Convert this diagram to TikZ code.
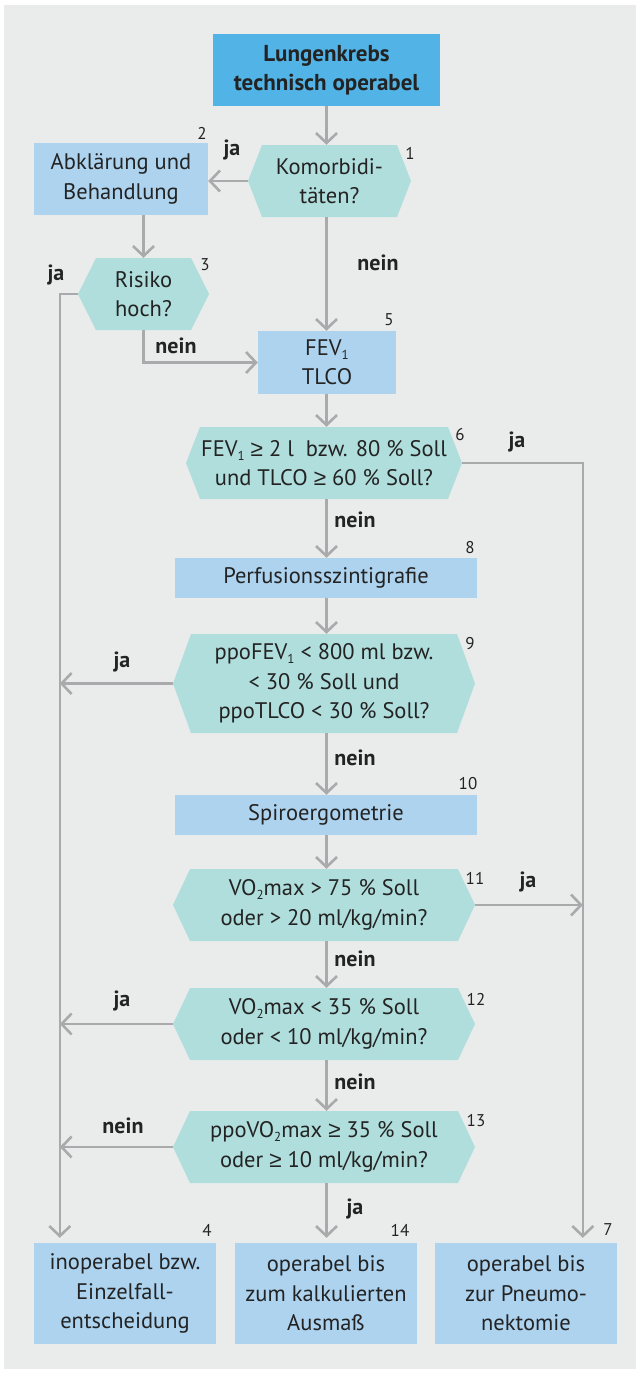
\documentclass[tikz,border=0pt]{standalone}
\usepackage{fontspec}
\setmainfont{PT Sans}
\newfontfamily\relfont{Liberation Sans}
\newcommand{\gesign}{{\relfont ≥}}
\newcommand{\lowidx}[1]{\raisebox{-0.35ex}{\fontsize{13}{13}\selectfont #1}}
\usetikzlibrary{arrows.meta,calc}

\definecolor{paper}{RGB}{255,255,255}
\definecolor{panel}{RGB}{234,236,235}
\definecolor{startblue}{RGB}{82,180,230}
\definecolor{stepblue}{RGB}{173,211,239}
\definecolor{hexfill}{RGB}{176,222,220}
\definecolor{linegray}{RGB}{170,170,172}
\definecolor{ink}{RGB}{35,35,35}

\tikzset{
  every node/.style={text=ink, inner sep=0pt, align=center,
    font=\fontsize{22.5}{29.5}\selectfont},
  startbox/.style={fill=startblue, font=\fontsize{23}{29}\selectfont\bfseries},
  stepbox/.style={fill=stepblue},
  hexq/.style={fill=panel,
    path picture={\fill[hexfill]
      (path picture bounding box.west)
      -- ($(path picture bounding box.north west)+(#1,0)$)
      -- ($(path picture bounding box.north east)+(-#1,0)$)
      -- (path picture bounding box.east)
      -- ($(path picture bounding box.south east)+(-#1,0)$)
      -- ($(path picture bounding box.south west)+(#1,0)$)
      -- cycle;}},
  hexq/.default=17,
  lab/.style={font=\fontsize{22}{24}\selectfont\bfseries},
  num/.style={font=\fontsize{17}{18}\selectfont},
  conn/.style={draw=linegray, line width=2.6pt,
    -{Straight Barb[length=10pt,width=21pt,line width=2.6pt]}},
}

\begin{document}
\begin{tikzpicture}[x=1pt,y=-1pt]
  % page and panel
  \fill[paper] (0,0) rectangle (640,1373);
  \fill[panel] (4,5) rectangle (636,1369);
  \useasboundingbox (0,0) rectangle (640,1373);

  % boxes and decisions
  \node[startbox, minimum width=227, minimum height=72] (start) at (326.5,70)
    {Lungenkrebs\\technisch operabel};
  \node[hexq=14, minimum width=163, minimum height=72] (hex1) at (329.5,181)
    {Komorbidi-\\täten?};
  \node[stepbox, minimum width=174, minimum height=72] (box2) at (121,179)
    {Abklärung und\\Behandlung};
  \node[hexq=18, minimum width=131, minimum height=72] (hex3) at (143.5,294)
    {Risiko\\hoch?};
  \node[stepbox, minimum width=138, minimum height=63] (box5) at (327,362.5)
    {FEV\lowidx{1}\\TLCO};
  \node[hexq=14, minimum width=276, minimum height=72] (hex6) at (324,463)
    {FEV\lowidx{1} \gesign{} 2 l\ \ bzw. 80~\% Soll\\und TLCO \gesign{} 60~\% Soll?};
  \node[stepbox, minimum width=302, minimum height=40] (box8) at (326,578)
    {Perfusionsszintigrafie};
  \node[hexq=18, minimum width=302, minimum height=99] (hex9) at (324,683.5)
    {ppoFEV\lowidx{1} < 800 ml bzw.\\< 30~\% Soll und\\ppoTLCO < 30~\% Soll?};
  \node[stepbox, minimum width=302, minimum height=40] (box10) at (326,815)
    {Spiroergometrie};
  \node[hexq, minimum width=302, minimum height=72] (hex11) at (324,905)
    {VO\lowidx{2}max > 75~\% Soll\\oder > 20 ml/kg/min?};
  \node[hexq, minimum width=302, minimum height=72] (hex12) at (324,1024)
    {VO\lowidx{2}max < 35~\% Soll\\oder < 10 ml/kg/min?};
  \node[hexq, minimum width=302, minimum height=72] (hex13) at (324,1147)
    {ppoVO\lowidx{2}max \gesign{} 35~\% Soll\\oder \gesign{} 10 ml/kg/min?};
  \node[stepbox, minimum width=182, minimum height=101] (box4) at (125,1293.5)
    {inoperabel bzw.\\Einzelfall-\\entscheidung};
  \node[stepbox, minimum width=182, minimum height=101] (box14) at (326,1293.5)
    {operabel bis\\zum kalkulierten\\Ausmaß};
  \node[stepbox, minimum width=182, minimum height=101] (box7) at (526,1293.5)
    {operabel bis\\zur Pneumo-\\nektomie};

  % feet of the two long side lines
  \coordinate (Lfoot) at ($(box4.north west)+(26,0)$);
  \coordinate (Rfoot) at ($(box7.north west)+(148,0)$);

  % connectors
  \draw[conn] (start.south) -- (start.south |- hex1.north);
  \draw[conn] (hex1.west) -- (hex1.west -| box2.east);
  \draw[conn] (hex3.north |- box2.south) -- (hex3.north);
  \draw[conn, shorten >=5pt] (hex3.west) -| (Lfoot);
  \draw[conn] (hex3.south) |- (box5.west);
  \draw[conn] (start.south |- hex1.south) -- (start.south |- box5.north);
  \draw[conn] (start.south |- box5.south) -- (start.south |- hex6.north);
  \draw[conn, shorten >=5pt] (hex6.east) -| (Rfoot);
  \draw[conn] (start.south |- hex6.south) -- (start.south |- box8.north);
  \draw[conn] (start.south |- box8.south) -- (start.south |- hex9.north);
  \draw[conn] (hex9.west) -- (hex9.west -| Lfoot);
  \draw[conn] (start.south |- hex9.south) -- (start.south |- box10.north);
  \draw[conn] (start.south |- box10.south) -- (start.south |- hex11.north);
  \draw[conn] (hex11.east) -- (hex11.east -| Rfoot);
  \draw[conn] (start.south |- hex11.south) -- (start.south |- hex12.north);
  \draw[conn] (hex12.west) -- (hex12.west -| Lfoot);
  \draw[conn] (start.south |- hex12.south) -- (start.south |- hex13.north);
  \draw[conn] (hex13.west) -- (hex13.west -| Lfoot);
  \draw[conn, shorten >=5pt] (start.south |- hex13.south) -- (start.south |- box14.north);

  % branch labels
  \node[lab] (l1) at (232,150) {ja};
  \node[lab] (l2) at (56,275) {ja};
  \node[lab] (l3) at (176,346) {nein};
  \node[lab] (l4) at (378,263) {nein};
  \node[lab] (l5) at (517,442) {ja};
  \node[lab] (l6) at (355,520) {nein};
  \node[lab] (l7) at (122,662) {ja};
  \node[lab] (l8) at (355,758) {nein};
  \node[lab] (l9) at (528,882) {ja};
  \node[lab] (l10) at (355,959) {nein};
  \node[lab] (l11) at (122,1001) {ja};
  \node[lab] (l12) at (355,1082) {nein};
  \node[lab] (l13) at (123,1126) {nein};
  \node[lab] (l14) at (355,1209) {ja};

  % step numbers
  \node[num] (n1) at (410,153) {1};
  \node[num] (n2) at (202,133) {2};
  \node[num] (n3) at (205,265) {3};
  \node[num] (n5) at (389,320) {5};
  \node[num] (n6) at (460,435) {6};
  \node[num] (n8) at (470,548) {8};
  \node[num] (n9) at (470,644) {9};
  \node[num] (n10) at (468,784) {10};
  \node[num] (n11) at (475,878) {11};
  \node[num] (n12) at (476,999) {12};
  \node[num] (n13) at (476,1121) {13};
  \node[num] (n4) at (207,1230) {4};
  \node[num] (n14) at (400,1230) {14};
  \node[num] (n7) at (608,1230) {7};
\end{tikzpicture}
\end{document}
